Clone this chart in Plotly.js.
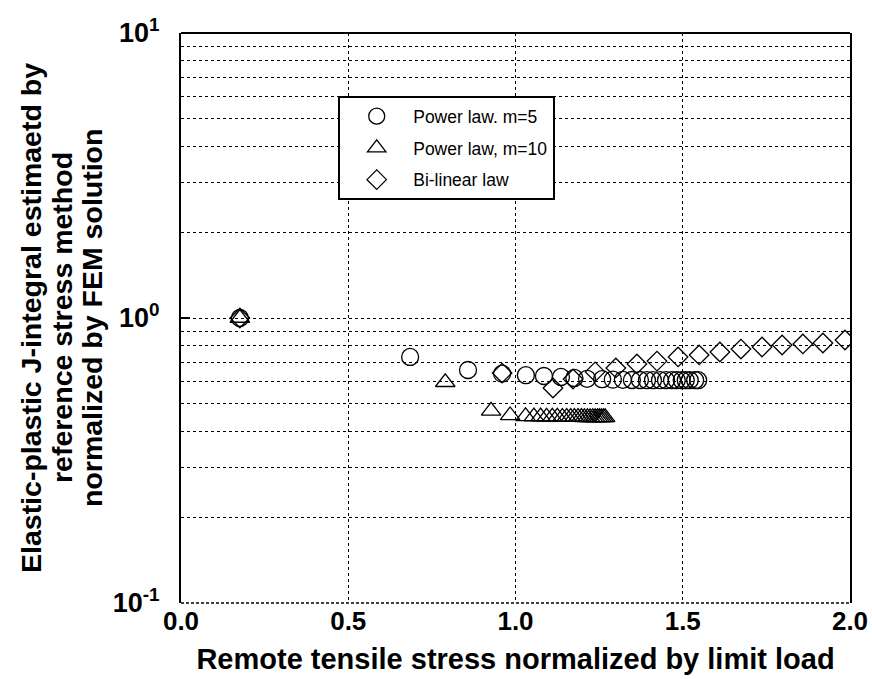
<!DOCTYPE html>
<html>
<head>
<meta charset="utf-8">
<script src="https://cdn.plot.ly/plotly-3.0.1.min.js"></script>
<style>
  html, body { margin: 0; padding: 0; background: #fff; }
  #chart { width: 872px; height: 679px; }
</style>
</head>
<body>
<div id="chart"></div>
<script>
// Power law, m = 5
const powerM5X = [0.176, 0.685, 0.858, 0.960, 1.031, 1.085, 1.136, 1.176, 1.214, 1.259, 1.291, 1.321, 1.348,
                  1.372, 1.393, 1.411, 1.432, 1.450, 1.468, 1.482, 1.497, 1.509, 1.521, 1.537, 1.546];
const powerM5Y = [1.00, 0.730, 0.657, 0.638, 0.630, 0.626, 0.621, 0.616, 0.612, 0.610, 0.608, 0.607, 0.606,
                  0.606, 0.605, 0.605, 0.605, 0.605, 0.605, 0.605, 0.605, 0.605, 0.605, 0.605, 0.605];

// Power law, m = 10
const powerM10X = [0.176, 0.790, 0.927, 0.984, 1.030, 1.055, 1.075, 1.093, 1.110, 1.125, 1.140, 1.153, 1.165,
                   1.176, 1.187, 1.197, 1.206, 1.215, 1.223, 1.231, 1.238, 1.245, 1.251, 1.257, 1.263, 1.268];
const powerM10Y = [1.00, 0.595, 0.472, 0.455, 0.452, 0.451, 0.451, 0.450, 0.450, 0.450, 0.449, 0.449, 0.449,
                   0.449, 0.449, 0.449, 0.448, 0.448, 0.448, 0.448, 0.448, 0.448, 0.448, 0.448, 0.448, 0.448];

// Bi-linear law
const bilinearX = [0.176, 0.960, 1.112, 1.172, 1.238, 1.300, 1.363, 1.423, 1.486, 1.549, 1.611, 1.674,
                   1.737, 1.797, 1.859, 1.919, 1.985];
const bilinearY = [1.00, 0.641, 0.568, 0.611, 0.647, 0.668, 0.690, 0.706, 0.730, 0.742, 0.760, 0.778,
                   0.791, 0.804, 0.811, 0.817, 0.837];

// Axis ticks
const xTickVals = [0.0, 0.5, 1.0, 1.5, 2.0];
const xTickText = ['0.0', '0.5', '1.0', '1.5', '2.0'];
const yTickVals = [0.1, 1, 10];
const yTickText = ['10<sup>-1</sup>', '10<sup>0</sup>', '10<sup>1</sup>'];
const yMinorVals = [0.2, 0.3, 0.4, 0.5, 0.6, 0.7, 0.8, 0.9, 2, 3, 4, 5, 6, 7, 8, 9];

// Axis titles (the y title is set as three stacked lines)
const xTitle = 'Remote tensile stress normalized by limit load';
const yTitleLines = ['Elastic-plastic J-integral estimaetd by',
                     'reference stress method',
                     'normalized by FEM solution'];

const FONT = 'Arial, "Liberation Sans", Helvetica, sans-serif';
const openMarker = (symbol, size) => ({
  symbol: symbol, size: size, color: 'rgba(255,255,255,0)',
  line: { color: '#000', width: 1.3 }
});

const traces = [
  { x: powerM5X, y: powerM5Y, name: 'Power law. m=5', mode: 'markers', type: 'scatter',
    legendgroup: 'a', marker: openMarker('circle', 17) },
  { x: powerM10X, y: powerM10Y, name: 'Power law, m=10', mode: 'markers', type: 'scatter',
    legendgroup: 'b', marker: openMarker('triangle-up', 17) },
  { x: bilinearX, y: bilinearY, name: 'Bi-linear law', mode: 'markers', type: 'scatter',
    legendgroup: 'c', marker: openMarker('diamond', 15) }
];

// plot area: 181..850 px horizontally, 33..603 px vertically
const PLOT_L = 181, PLOT_W = 669;
const yTitleAnnotations = yTitleLines.map((line, i) => ({
  text: line, textangle: -90, showarrow: false,
  xref: 'paper', yref: 'paper',
  x: ([31, 62, 92][i] - PLOT_L) / PLOT_W, y: 0.5,
  xanchor: 'center', yanchor: 'middle',
  font: { family: FONT, size: 28.5, weight: 'bold', color: '#000' }
}));

const layout = {
  width: 872, height: 679,
  margin: { l: 181, r: 22, t: 33, b: 76, pad: 0 },
  paper_bgcolor: '#fff', plot_bgcolor: '#fff',
  font: { family: FONT, color: '#000' },
  showlegend: true,
  legend: {
    x: 0.235, y: 0.889, xanchor: 'left', yanchor: 'top',
    bgcolor: '#fff', bordercolor: '#000', borderwidth: 2,
    font: { family: FONT, size: 17.5, color: '#000' },
    traceorder: 'grouped', tracegroupgap: 6, itemwidth: 63
  },
  xaxis: {
    range: [0, 2], tickvals: xTickVals, ticktext: xTickText,
    ticks: '', showline: false, zeroline: false,
    showgrid: true, gridcolor: '#000', gridwidth: 1, griddash: '3px,3px',
    tickfont: { family: FONT, size: 26, weight: 'bold' },
    title: { text: xTitle, font: { family: FONT, size: 29, weight: 'bold' }, standoff: 13 }
  },
  yaxis: {
    type: 'log', range: [-1, 1], tickvals: yTickVals, ticktext: yTickText,
    ticks: 'inside', ticklen: 9, tickwidth: 1.5, tickcolor: '#000',
    ticklabelstandoff: 14,
    showline: true, linecolor: '#000', linewidth: 2, mirror: true, zeroline: false,
    showgrid: true, gridcolor: '#000', gridwidth: 1, griddash: '3px,3px',
    minor: { tickvals: yMinorVals, showgrid: true, gridcolor: '#000', gridwidth: 1,
             griddash: '3px,3px', ticks: '' },
    tickfont: { family: FONT, size: 27, weight: 'bold' }
  },
  annotations: yTitleAnnotations,
  shapes: [
    { type: 'line', xref: 'paper', yref: 'paper', x0: 0, x1: 1, y0: 1, y1: 1,
      line: { color: '#000', width: 2 } },
    { type: 'line', xref: 'paper', yref: 'paper', x0: 0, x1: 1, y0: 0, y1: 0,
      line: { color: '#000', width: 1.5, dash: '3px,2px' } }
  ]
};

Plotly.newPlot('chart', traces, layout, { displayModeBar: false, staticPlot: true });
</script>
</body>
</html>
